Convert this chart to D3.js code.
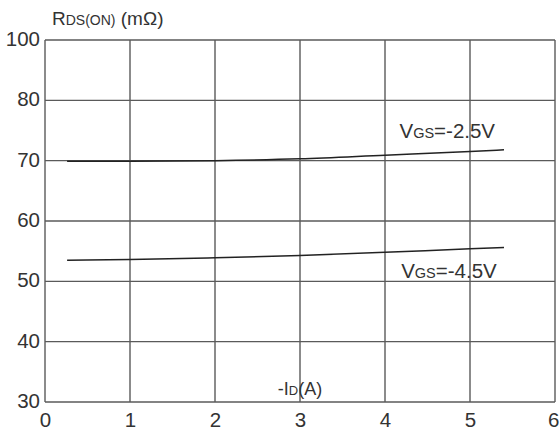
<!DOCTYPE html>
<html>
<head>
<meta charset="utf-8">
<script src="https://cdn.jsdelivr.net/npm/d3@7/dist/d3.min.js"></script>
<style>
  html, body { margin: 0; padding: 0; background: #fff; }
  svg { display: block; }
  text { font-family: "Liberation Sans", Arial, sans-serif; fill: #333; }
</style>
</head>
<body>
<svg id="chart" width="560" height="432"></svg>
<script>
// Drain current (A) sample points shared by both curves
const currentA = [0.26, 1, 2, 3, 4, 5, 5.4];
// On-resistance (mΩ) for each gate-source voltage
const rdsVgs25 = [69.9, 69.9, 70.0, 70.3, 70.9, 71.5, 71.8];
const rdsVgs45 = [53.5, 53.6, 53.9, 54.3, 54.8, 55.4, 55.6];
// Axis ticks (the y axis jumps from 80 to 100 in its top band)
const xTicks = [0, 1, 2, 3, 4, 5, 6];
const yTicks = [30, 40, 50, 60, 70, 80, 100];
const seriesLabels = [
  { main: "V", sub: "GS", rest: "=-2.5V" },
  { main: "V", sub: "GS", rest: "=-4.5V" }
];

const svg = d3.select("#chart");
const plotLeft = 45, plotRight = 555, plotTop = 40, plotBottom = 402;

const x = d3.scaleLinear().domain([0, 6]).range([plotLeft, plotRight]);
// Piecewise scale: equal bands for 30..80 and one band for 80..100
const y = d3.scaleLinear().domain([30, 80, 100])
  .range([plotBottom, plotBottom - 5 * (plotBottom - plotTop) / 6, plotTop]);

const gridColor = "#5a5a5a";

// Grid lines
svg.append("g").selectAll("line").data(xTicks).join("line")
  .attr("x1", d => x(d)).attr("x2", d => x(d))
  .attr("y1", plotTop).attr("y2", plotBottom)
  .attr("stroke", gridColor).attr("stroke-width", 1.4);
svg.append("g").selectAll("line").data(yTicks).join("line")
  .attr("x1", plotLeft).attr("x2", plotRight)
  .attr("y1", d => y(d)).attr("y2", d => y(d))
  .attr("stroke", gridColor).attr("stroke-width", 1.4);

// Axes (labels only; lines come from the grid)
const xAxis = d3.axisBottom(x).tickValues(xTicks).tickFormat(d3.format("d"))
  .tickSize(0).tickPadding(0);
const gx = svg.append("g").attr("transform", `translate(0,${plotBottom})`).call(xAxis);
gx.select(".domain").remove();
gx.selectAll("text").attr("font-size", 20.5).attr("dy", null).attr("y", 25)
  .style("font-family", "'Liberation Sans', Arial, sans-serif").attr("fill", "#333");
// keep the last label inside the frame
gx.selectAll("text").filter(d => d === 6).attr("text-anchor", "end").attr("x", 4);

const yAxis = d3.axisLeft(y).tickValues(yTicks).tickFormat(d3.format("d"))
  .tickSize(0).tickPadding(0);
const gy = svg.append("g").attr("transform", `translate(${plotLeft - 5},0)`).call(yAxis);
gy.select(".domain").remove();
gy.selectAll("text").attr("font-size", 20.5).attr("x", 0).attr("dy", "0.27em")
  .style("font-family", "'Liberation Sans', Arial, sans-serif").attr("fill", "#333");

// Curves
const line = d3.line().x((d, i) => x(currentA[i])).y(d => y(d)).curve(d3.curveMonotoneX);
[rdsVgs25, rdsVgs45].forEach(s => {
  svg.append("path").datum(s)
    .attr("d", line)
    .attr("fill", "none").attr("stroke", "#222").attr("stroke-width", 1.5);
});

// Curve labels
function labelAt(lbl, px, py) {
  const t = svg.append("text").attr("x", px).attr("y", py).attr("font-size", 20.5);
  t.append("tspan").text(lbl.main);
  t.append("tspan").attr("font-size", 14.5).text(lbl.sub);
  t.append("tspan").text(lbl.rest);
}
labelAt(seriesLabels[0], x(4.17), y(71.8) - 12);
labelAt(seriesLabels[1], x(4.19), y(55.6) + 30);

// Y axis title
const yt = svg.append("text").attr("x", 52).attr("y", 25).attr("font-size", 19);
yt.append("tspan").text("R");
yt.append("tspan").attr("font-size", 14).text("DS(ON)");
yt.append("tspan").text(" (mΩ)");

// X axis title
const xt = svg.append("text").attr("x", x(3)).attr("y", 395).attr("font-size", 18).attr("text-anchor", "middle");
xt.append("tspan").text("-I");
xt.append("tspan").attr("font-size", 13).text("D");
xt.append("tspan").text("(A)");
</script>
</body>
</html>
